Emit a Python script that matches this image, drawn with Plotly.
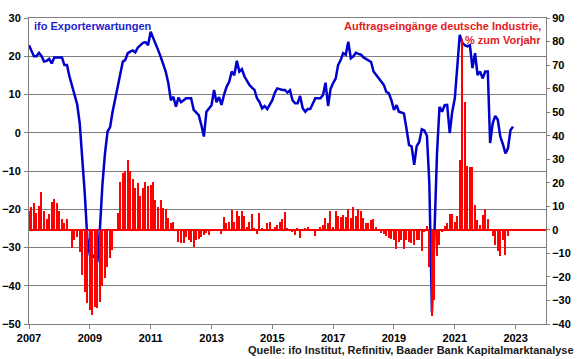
import pandas as pd
import plotly.graph_objects as go

# ifo Exporterwartungen (left axis), monthly Jan 2007 - Dec 2022
ifo_2007 = [22.9, 21.5, 20.0, 20.0, 20.9, 20.0, 18.6, 18.8, 19.3, 18.1, 19.7, 19.7]
ifo_2008 = [19.7, 19.7, 17.7, 17.7, 14.7, 12.5, 10.3, 7.5, 2.5, -5.5, -16.0, -27.5]
ifo_2009 = [-32.0, -32.4, -32.0, -33.9, -25.4, -13.5, -5.5, 0.3, 1.5, 5.5, 9.0, 12.0]
ifo_2010 = [15.5, 18.6, 19.0, 20.8, 21.2, 21.5, 21.0, 22.3, 22.9, 23.5, 23.7, 22.9]
ifo_2011 = [26.4, 24.9, 23.4, 21.6, 19.9, 18.0, 16.0, 13.0, 8.5, 9.4, 6.8, 9.2]
ifo_2012 = [8.0, 8.5, 9.0, 9.0, 9.0, 6.0, 5.3, 4.6, 2.0, -1.0, 5.5, 6.4]
ifo_2013 = [7.2, 11.2, 8.0, 9.3, 7.3, 10.0, 12.0, 13.3, 16.0, 15.0, 18.8, 16.0]
ifo_2014 = [16.6, 14.7, 13.5, 12.5, 11.8, 11.2, 9.0, 8.0, 6.4, 7.0, 6.2, 7.5]
ifo_2015 = [8.5, 10.5, 11.6, 11.4, 11.2, 11.2, 10.5, 11.1, 8.5, 7.7, 7.7, 9.6]
ifo_2016 = [6.4, 5.5, 6.2, 6.2, 7.5, 9.0, 9.0, 9.0, 9.9, 13.1, 7.0, 11.5]
ifo_2017 = [13.0, 14.2, 17.7, 19.0, 20.8, 20.4, 23.8, 19.5, 20.0, 20.9, 20.6, 20.4]
ifo_2018 = [19.7, 19.3, 19.0, 18.5, 16.0, 15.1, 14.2, 13.6, 12.5, 10.7, 10.3, 8.5]
ifo_2019 = [6.0, 7.2, 5.5, 5.3, 5.0, 1.0, -3.2, -3.6, -8.4, -3.5, -2.4, 0.9]
ifo_2020 = [0.6, -0.8, -13.2, -47.0, -28.9, -5.4, 6.8, 5.5, 7.2, 7.3, -0.1, 5.5]
ifo_2021 = [9.0, 19.0, 25.6, 23.5, 22.9, 22.6, 22.9, 16.9, 20.8, 15.1, 16.0, 14.2]
ifo_2022 = [16.0, 16.0, -2.7, 2.5, 4.4, 3.4, -1.0, -3.0, -5.4, -4.1, 0.7, 1.6]

# Auftragseingänge deutsche Industrie, % zum Vorjahr (right axis)
ord_2007 = [7.8, 9.9, 11.3, 7.1, 10.2, 15.9, 7.8, 4.5, 6.8, 11.8, 13.0, 11.6]
ord_2008 = [7.8, 4.5, 2.8, 4.7, -0.5, -7.8, -4.2, -3.1, -9.2, -19.1, -26.2, -31.2]
ord_2009 = [-34.0, -36.1, -32.6, -33.3, -30.5, -24.0, -20.5, -15.6, -12.0, -8.5, -0.5, 7.1]
ord_2010 = [20.5, 24.0, 24.8, 29.7, 25.2, 21.5, 17.7, 19.8, 14.2, 17.7, 20.5, 18.7]
ord_2011 = [19.1, 20.3, 12.7, 9.9, 12.5, 9.2, 8.8, 5.0, 2.8, 3.5, 0.3, -5.0]
ord_2012 = [-5.4, -5.7, -3.1, -4.2, -5.0, -7.4, -4.5, -4.0, -3.1, -2.1, -1.4, -2.1]
ord_2013 = [-0.7, -0.3, 0.2, 0.3, -1.7, 5.4, 2.8, 3.5, 8.5, 3.5, 7.8, 6.0]
ord_2014 = [7.8, 6.0, 1.4, 3.5, 6.8, 0.7, -1.7, 7.1, 0.7, 0.2, 2.8, 3.5]
ord_2015 = [0.3, 1.0, 2.1, 3.5, 4.5, 7.4, 0.5, -0.7, -1.1, -2.3, 0.7, -3.5]
ord_2016 = [0.3, 0.7, 1.1, 0.3, 0.2, -2.4, 0.3, 1.4, 2.1, 5.0, 2.8, 8.1]
ord_2017 = [1.4, 7.8, 6.0, 5.4, 6.4, 5.5, 8.9, 5.0, 9.6, 5.7, 8.8, 7.8]
ord_2018 = [5.0, 2.8, 2.8, 4.2, 4.5, 1.4, 0.0, -1.4, -1.8, -2.5, -3.3, -4.0]
ord_2019 = [-4.2, -8.2, -5.0, -4.2, -8.2, -4.5, -5.0, -5.7, -6.4, -4.5, -4.2, -8.8]
ord_2020 = [-1.0, 1.7, -15.9, -36.5, -29.7, -11.3, -6.4, -1.1, 1.5, 3.1, 6.8, 6.8]
ord_2021 = [3.5, 5.7, 29.5, 81.0, 54.4, 27.2, 26.9, 26.6, 10.4, 4.2, 2.1, 6.2]
ord_2022 = [8.8, 4.5, 0.0, -2.8, -6.4, -9.0, -11.3, -4.2, -10.5, -2.8]

ifo = (ifo_2007 + ifo_2008 + ifo_2009 + ifo_2010 + ifo_2011 + ifo_2012 + ifo_2013 + ifo_2014
       + ifo_2015 + ifo_2016 + ifo_2017 + ifo_2018 + ifo_2019 + ifo_2020 + ifo_2021 + ifo_2022)
orders = (ord_2007 + ord_2008 + ord_2009 + ord_2010 + ord_2011 + ord_2012 + ord_2013 + ord_2014
          + ord_2015 + ord_2016 + ord_2017 + ord_2018 + ord_2019 + ord_2020 + ord_2021 + ord_2022)

ifo_dates = pd.date_range("2007-01-01", periods=len(ifo), freq="MS")
ord_dates = pd.date_range("2007-01-01", periods=len(orders), freq="MS")

x_ticks = ["2007", "2009", "2011", "2013", "2015", "2017", "2019", "2021", "2023"]

FONT = "Liberation Sans, Arial, sans-serif"
GRID = "#808080"
TICKFONT = dict(family=FONT, size=11, color="black", weight="bold")

fig = go.Figure()
fig.add_trace(go.Bar(
    x=ord_dates, y=orders, yaxis="y2",
    marker=dict(color="#ff0000", line=dict(width=0)),
    width=15 * 24 * 3600 * 1000,
    showlegend=False,
))
fig.add_trace(go.Scatter(
    x=ifo_dates, y=ifo, mode="lines",
    line=dict(color="#0000cc", width=2.5),
    showlegend=False,
))

fig.update_layout(
    width=580, height=359,
    margin=dict(l=29, r=34, t=18, b=35, autoexpand=False),
    paper_bgcolor="white", plot_bgcolor="white",
    font=dict(family=FONT, size=11, color="black"),
    bargap=0,
    xaxis=dict(
        type="date",
        range=["2007-01-01", "2024-01-01"],
        tickmode="array",
        tickvals=[f"{y}-01-01" for y in x_ticks],
        ticktext=x_ticks,
        showgrid=False,
        showline=True, linecolor=GRID, linewidth=1, mirror=True,
        ticks="outside", ticklen=4, tickcolor=GRID,
        tickfont=TICKFONT, automargin=False,
    ),
    yaxis=dict(
        range=[-50, 30], dtick=10, tick0=0,
        showgrid=True, gridcolor=GRID, gridwidth=1,
        zeroline=False,
        showline=True, linecolor=GRID, linewidth=1,
        ticks="outside", ticklen=4, tickcolor=GRID,
        ticklabelstandoff=1,
        tickfont=TICKFONT, automargin=False,
    ),
    yaxis2=dict(
        range=[-40, 90], dtick=10, tick0=0,
        overlaying="y", side="right",
        showgrid=False,
        zeroline=True, zerolinecolor="#ff0000", zerolinewidth=1.5,
        showline=True, linecolor=GRID, linewidth=1,
        ticks="outside", ticklen=3, tickcolor=GRID,
        tickfont=TICKFONT, automargin=False,
    ),
    annotations=[
        dict(text="ifo Exporterwartungen", xref="paper", yref="paper",
             x=0.006, y=0.974, xanchor="left", yanchor="middle", showarrow=False,
             font=dict(family=FONT, size=11, color="#1f1fcc", weight="bold")),
        dict(text="Auftragseingänge deutsche Industrie,", xref="paper", yref="paper",
             x=0.994, y=0.974, xanchor="right", yanchor="middle", showarrow=False,
             font=dict(family=FONT, size=11, color="#e32020", weight="bold")),
        dict(text="% zum Vorjahr", xref="paper", yref="paper",
             x=0.994, y=0.928, xanchor="right", yanchor="middle", showarrow=False,
             font=dict(family=FONT, size=11, color="#e32020", weight="bold")),
        dict(text="Quelle: ifo Institut, Refinitiv, Baader Bank Kapitalmarktanalyse",
             xref="paper", yref="paper", x=1.0575, y=-0.085,
             xanchor="right", yanchor="middle", showarrow=False,
             font=dict(family=FONT, size=11, color="#1a1a1a", weight="bold")),
    ],
)

fig.write_html("out.html", config={"displayModeBar": False},
               post_script="document.body.style.margin='0';")
